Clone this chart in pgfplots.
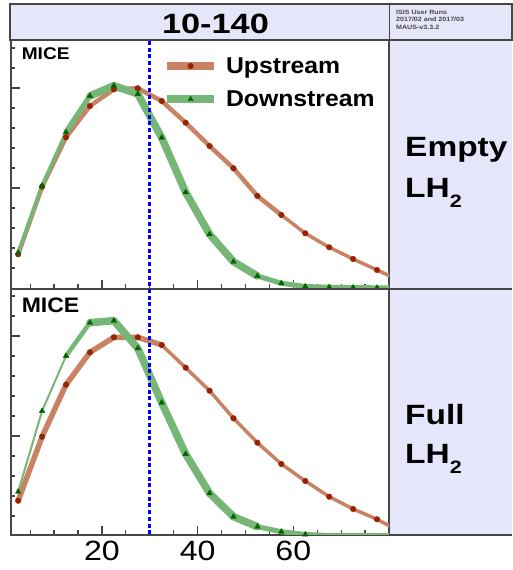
\documentclass[border=0pt]{standalone}
\usepackage{pgfplots}
\pgfplotsset{compat=1.18}
\usepackage{pgfplotstable}
\usepackage{fontspec}
\setmainfont{Liberation Sans}
\usepackage{graphicx}

\definecolor{brownband}{RGB}{200,130,100}
\definecolor{brownmark}{RGB}{150,35,5}
\definecolor{greenband}{RGB}{118,182,118}
\definecolor{greenmark}{RGB}{0,100,0}
\definecolor{lav}{RGB}{230,230,250}
\definecolor{framegray}{RGB}{70,70,70}
\newcommand{\hs}[2]{\scalebox{#1}[1]{#2}}

\pgfplotstableread{
x y
2.5 33.7
7.5 101.3
12.5 150.7
17.5 182
22.5 198.7
27.5 199.7
32.5 187
37.5 165.3
42.5 142
47.5 119.7
52.5 92
57.5 73
62.5 54.7
67.5 40.7
72.5 29
77.5 18
82.5 7
}\topup
\pgfplotstableread{
x y
2.5 35.3
7.5 102.3
12.5 155.7
17.5 192
22.5 202.3
27.5 194
32.5 150.3
37.5 95.7
42.5 53.7
47.5 26.3
52.5 12
57.5 4.7
62.5 1.5
67.5 0.8
72.5 0.4
77.5 0.2
82.5 0.1
}\topdown
\pgfplotstableread{
x y
2.5 35.3
7.5 99.3
12.5 151.3
17.5 183.7
22.5 198.7
27.5 198.7
32.5 191
37.5 168.3
42.5 145.3
47.5 117.7
52.5 93.3
57.5 72
62.5 55
67.5 39.3
72.5 27
77.5 16.7
82.5 4
}\botup
\pgfplotstableread{
x y
2.5 44.3
7.5 125
12.5 180
17.5 213.3
22.5 215.3
27.5 187.7
32.5 133.3
37.5 82
42.5 42.7
47.5 19.3
52.5 9.3
57.5 4.3
62.5 1.5
67.5 0.5
72.5 0.5
77.5 0.5
82.5 0.3
}\botdown

\pgfplotsset{
  mypanel/.style={
    scale only axis, width=378bp, xmin=1, xmax=80,
    axis line style={draw=framegray, line width=1.5bp},
    tick style={draw=framegray, line width=1.2bp},
    tick align=inside, xtick pos=left, ytick pos=left,
    major tick length=9bp, minor tick length=4.5bp,
    xtick={20,40,60}, minor xtick={5,10,15,25,30,35,45,50,55,65,70,75},
    ytick={100,200}, minor ytick={20,40,60,80,120,140,160,180,220,240},
    yticklabels={},
  },
  myupband/.style={draw=brownband, line width=#1, line join=round, line cap=round, forget plot},
  mydownband/.style={draw=greenband, line width=#1, line join=round, line cap=round, forget plot},
  myupmark/.style={only marks, mark=*, mark size=2.8bp, color=brownmark,
    legend image code/.code={\draw[brownband, line width=8bp] (0bp,0bp) -- (47bp,0bp); \fill[brownmark] (23.5bp,0bp) circle (2.8bp);}},
  mydownmark/.style={only marks, mark=triangle*, mark size=3.2bp, color=greenmark,
    legend image code/.code={\draw[greenband, line width=8bp] (0bp,0bp) -- (47bp,0bp); \fill[greenmark] (23.5bp,3bp) -- (26.1bp,-1.5bp) -- (20.9bp,-1.5bp) -- cycle;}},
  mycut/.style={blue, line width=3bp, dash pattern=on 4bp off 2.7bp, forget plot},
}

\begin{document}
\begin{tikzpicture}
\fill[lav] (10bp,530bp) rectangle (512bp,566bp);
\fill[lav] (389.3bp,35bp) rectangle (512bp,530bp);
\draw[framegray, line width=1.5bp] (10bp,530bp) rectangle (512bp,566bp);
\draw[framegray, line width=1.5bp] (389.3bp,35bp) -- (389.3bp,566bp);
\draw[framegray, line width=1.5bp] (389.3bp,35bp) -- (512bp,35bp);
\draw[framegray, line width=1.5bp] (389.3bp,281bp) -- (512bp,281bp);

% top panel: empty LH2
\begin{axis}[mypanel, at={(11bp,281bp)}, anchor=south west, height=249bp, ymin=-1, ymax=248,
  xticklabels={},
  legend style={draw=none, fill=none, at={(0.394,0.947)}, anchor=north west,
    font=\fontsize{23}{27}\selectfont\bfseries, row sep=12bp},
  legend cell align=left]
\addplot[myupband=4.5bp, skip coords between index={12}{100}] table[x=x, y=y] {\topup};
\addplot[myupband=3.5bp, skip coords between index={0}{11}] table[x=x, y=y] {\topup};
\addplot[mydownband=3.5bp, skip coords between index={3}{100}] table[x=x, y=y] {\topdown};
\addplot[mydownband=5.5bp, skip coords between index={0}{2}, skip coords between index={4}{100}] table[x=x, y=y] {\topdown};
\addplot[mydownband=7.5bp, skip coords between index={0}{3}, skip coords between index={11}{100}] table[x=x, y=y] {\topdown};
\addplot[mydownband=5bp, skip coords between index={0}{10}] table[x=x, y=y] {\topdown};
\addplot[mycut] coordinates {(30,-5) (30,260)};
\addplot[myupmark] table[x=x, y=y] {\topup};
\addlegendentry{\hspace{6bp}\hs{1.08}{Upstream}}
\addplot[mydownmark] table[x=x, y=y] {\topdown};
\addlegendentry{\hspace{6bp}\hs{1.08}{Downstream}}
\node[anchor=base west, inner sep=0pt] at (axis description cs:0.028,0.92) {\fontsize{17}{17}\selectfont\bfseries\hs{1.13}{MICE}};
\end{axis}

% bottom panel: full LH2
\begin{axis}[mypanel, at={(11bp,35bp)}, anchor=south west, height=246bp, ymin=1, ymax=247,
  xticklabels={\hs{1.15}{20},\hs{1.15}{40},\hs{1.15}{60}},
  xticklabel style={font=\fontsize{28}{28}\selectfont, yshift=-3bp}]
\addplot[myupband=5.5bp, skip coords between index={7}{100}] table[x=x, y=y] {\botup};
\addplot[myupband=3.5bp, skip coords between index={0}{6}] table[x=x, y=y] {\botup};
\addplot[mydownband=2bp, skip coords between index={3}{100}] table[x=x, y=y] {\botdown};
\addplot[mydownband=4.5bp, skip coords between index={0}{2}, skip coords between index={4}{100}] table[x=x, y=y] {\botdown};
\addplot[mydownband=7.5bp, skip coords between index={0}{3}, skip coords between index={11}{100}] table[x=x, y=y] {\botdown};
\addplot[mydownband=5bp, skip coords between index={0}{10}] table[x=x, y=y] {\botdown};
\addplot[mycut] coordinates {(30,-5) (30,260)};
\addplot[myupmark] table[x=x, y=y] {\botup};
\addplot[mydownmark] table[x=x, y=y] {\botdown};
\node[anchor=base west, inner sep=0pt] at (axis description cs:0.028,0.904) {\fontsize{21}{21}\selectfont\bfseries\hs{1.1}{MICE}};
\end{axis}

% header and side labels
\node[anchor=base, inner sep=0pt] at (215.5bp,536.7bp) {\fontsize{28}{28}\selectfont\bfseries\hs{1.23}{10-140}};
\begin{scope}[every node/.style={anchor=base west, inner sep=0pt, text=framegray, font=\fontsize{6.2}{6.2}\selectfont\bfseries}]
\node at (396bp,555.5bp) {\hs{1.15}{ISIS User Runs}};
\node at (396bp,548bp) {\hs{1.15}{2017/02 and 2017/03}};
\node at (396bp,540.8bp) {\hs{1.15}{MAUS-v3.3.2}};
\end{scope}
\begin{scope}[every node/.style={anchor=base west, inner sep=0pt, font=\fontsize{28}{28}\selectfont\bfseries}]
\node at (405bp,413.3bp) {\hs{1.2}{Empty}};
\node at (405bp,372bp) {\hs{1.2}{LH\raisebox{-10bp}{\fontsize{18}{18}\selectfont 2}}};
\node at (405bp,145bp) {\hs{1.2}{Full}};
\node at (405bp,106.7bp) {\hs{1.2}{LH\raisebox{-10bp}{\fontsize{18}{18}\selectfont 2}}};
\end{scope}
\useasboundingbox (0bp,0bp) rectangle (512bp,570bp);
\end{tikzpicture}
\end{document}
